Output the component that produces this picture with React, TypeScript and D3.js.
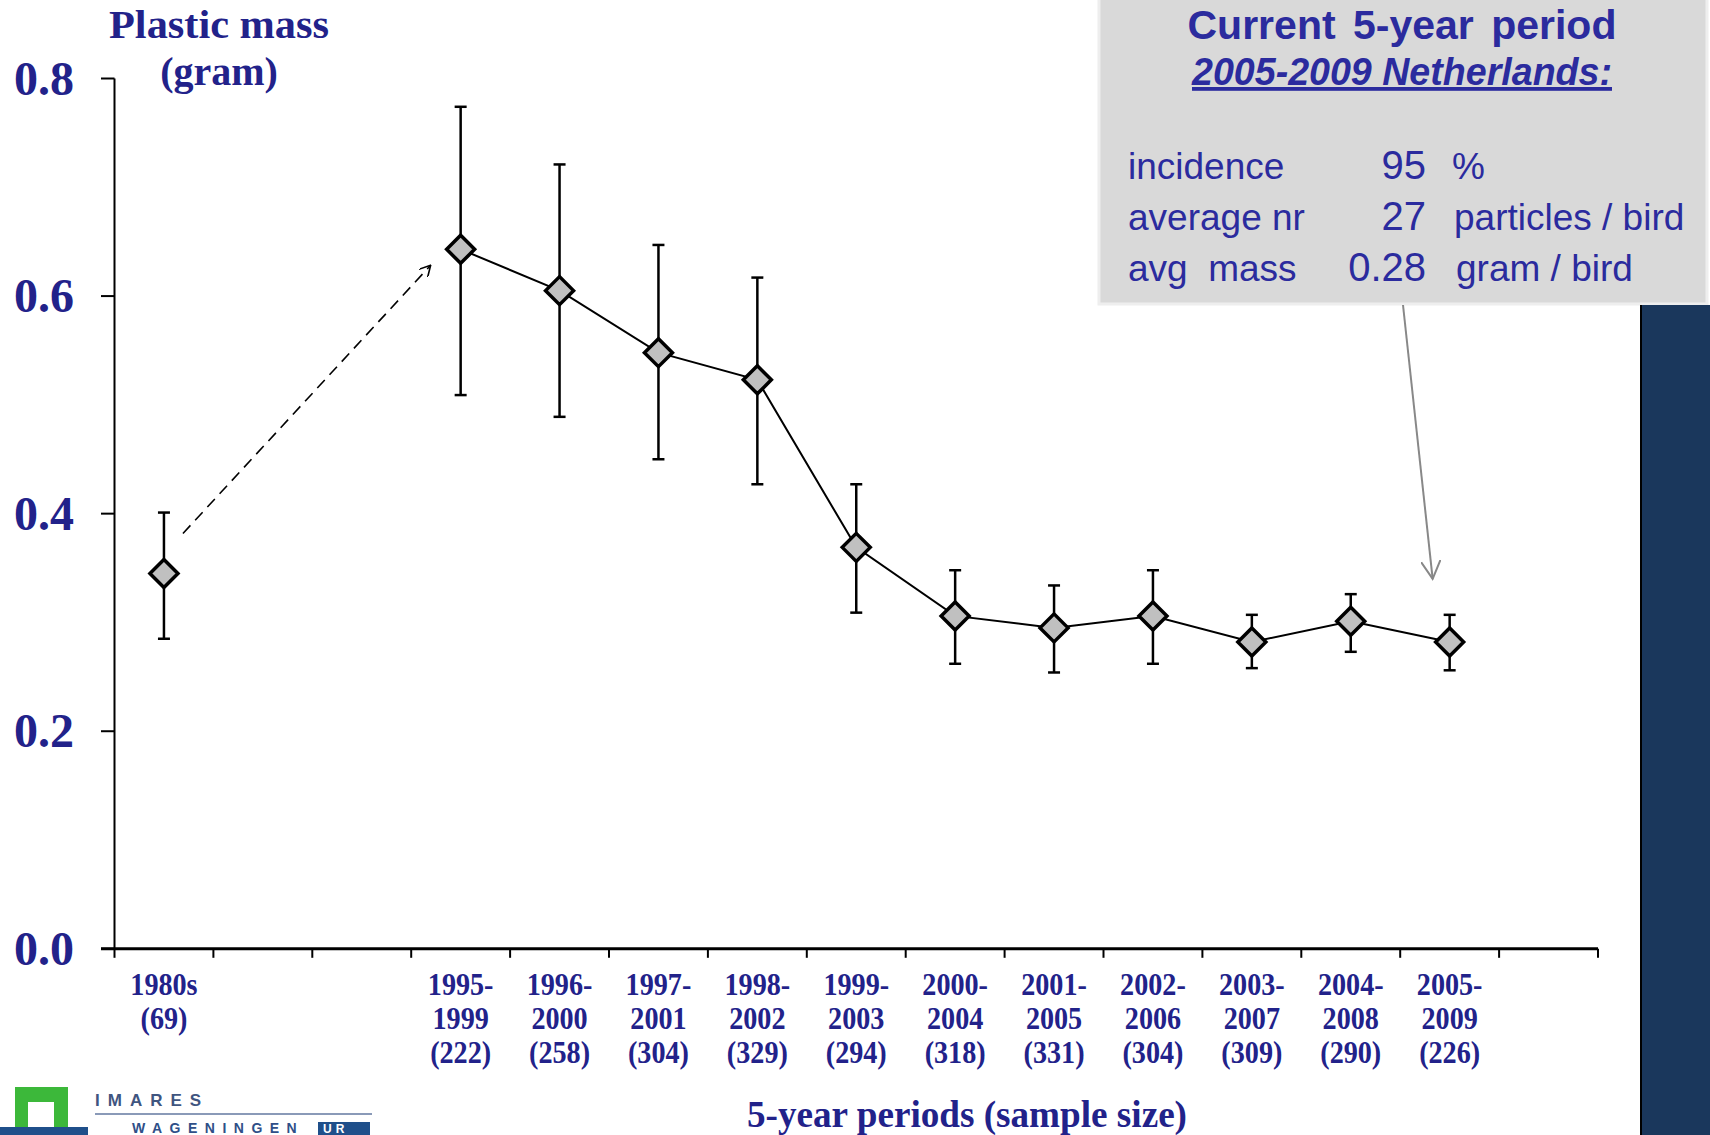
import React, { useEffect } from 'react';
import * as d3 from 'd3';

// slots along the x axis (three of them stay empty)
const xSlots = ['1980s', 'gap1', 'gap2', '1995-1999', '1996-2000', '1997-2001', '1998-2002', '1999-2003',
  '2000-2004', '2001-2005', '2002-2006', '2003-2007', '2004-2008', '2005-2009', 'gap3'];

const periods = ['1980s', '1995-1999', '1996-2000', '1997-2001', '1998-2002', '1999-2003',
  '2000-2004', '2001-2005', '2002-2006', '2003-2007', '2004-2008', '2005-2009'];
const sampleSizes = [69, 222, 258, 304, 329, 294, 318, 331, 304, 309, 290, 226];
const meanMass = [0.345, 0.643, 0.605, 0.548, 0.523, 0.369, 0.306, 0.295, 0.306, 0.282, 0.301, 0.282];
const upperMass = [0.401, 0.774, 0.721, 0.647, 0.617, 0.427, 0.348, 0.334, 0.348, 0.307, 0.326, 0.307];
const lowerMass = [0.285, 0.509, 0.489, 0.450, 0.427, 0.309, 0.262, 0.254, 0.262, 0.258, 0.273, 0.256];

const yTicks = [0, 0.2, 0.4, 0.6, 0.8];

const boxRows = [
  { label: 'incidence', value: '95', unit: '%' },
  { label: 'average nr', value: '27', unit: 'particles / bird' },
  { label: 'avg  mass', value: '0.28', unit: 'gram / bird' },
];

const W = 1710;
const H = 1135;
const navy = '#22228a';
const boxBlue = '#2b2b9e';

const App = () => {
  useEffect(() => {
    document.body.style.margin = '0';
  }, []);

  const x = d3.scaleBand().domain(xSlots).range([114.5, 1598]);
  const y = d3.scaleLinear().domain([0, 0.8]).range([948.8, 78.5]);
  const cx = (p: string) => (x(p) as number) + x.bandwidth() / 2;

  const pts = periods.map((p, i) => ({ p, n: sampleSizes[i], m: meanMass[i], hi: upperMass[i], lo: lowerMass[i] }));
  const line = d3.line<typeof pts[0]>().x(d => cx(d.p)).y(d => y(d.m));
  const diamond = 'M0,-14L14,0L0,14L-14,0Z';

  const tickXs = xSlots.map(s => x(s) as number).concat([x.range()[1]]);

  // dashed arrow from the 1980s point toward 1995-1999
  const p0 = pts[0], p1 = pts[1];
  const a0 = [cx(p0.p) + 19, y(p0.m) - 40];
  const a1 = [cx(p1.p) - 30, y(p1.m) + 16];

  const last = pts[pts.length - 1];

  return (
    <svg width={W} height={H} style={{ display: 'block', background: '#fff' }}>
      <defs>
        <marker id="openBlack" viewBox="0 0 12 12" refX="11" refY="6" markerWidth="12" markerHeight="12"
          markerUnits="userSpaceOnUse" orient="auto">
          <path d="M0,0L11,6L0,12" fill="none" stroke="#000" strokeWidth="1.6" />
        </marker>
        <marker id="openGrey" viewBox="0 0 12 12" refX="11" refY="6" markerWidth="20" markerHeight="20"
          markerUnits="userSpaceOnUse" orient="auto">
          <path d="M0,0L11,6L0,12" fill="none" stroke="#888" strokeWidth="1.2" />
        </marker>
      </defs>

      {/* info box */}
      <rect x={1099} y={-2} width={608} height={306} fill="#d9d9d9" stroke="#eeeeee" strokeWidth={3} />
      <text x={1402} y={39} textAnchor="middle" fontFamily="Liberation Sans, Arial" fontWeight="bold"
        fontSize={41} fill={boxBlue} wordSpacing={6}>Current 5-year period</text>
      <text x={1402} y={85} textAnchor="middle" fontFamily="Liberation Sans, Arial" fontWeight="bold"
        fontStyle="italic" fontSize={38} fill={boxBlue} textDecoration="underline" textLength={420}
        lengthAdjust="spacingAndGlyphs">2005-2009 Netherlands:</text>
      {boxRows.map((r, i) => (
        <g key={r.label} fontFamily="Liberation Sans, Arial" fill={boxBlue}>
          <text x={1128} y={179 + i * 51} fontSize={37} xmlSpace="preserve">{r.label}</text>
          <text x={1426} y={179 + i * 51} fontSize={40} textAnchor="end">{r.value}</text>
          <text x={1452 + i * 2} y={179 + i * 51} fontSize={37}>{r.unit}</text>
        </g>
      ))}

      {/* dark side panel */}
      <rect x={1641} y={305} width={69} height={830} fill="#1a375c" />
      <line x1={1641} y1={305} x2={1641} y2={H} stroke="#000" strokeWidth={2} />

      {/* axes */}
      <line x1={114.5} y1={y(0.8)} x2={114.5} y2={y(0)} stroke="#000" strokeWidth={2} />
      {yTicks.map(t => (
        <g key={t}>
          <line x1={101} x2={114.5} y1={y(t)} y2={y(t)} stroke="#000" strokeWidth={2} />
          <text x={74} y={y(t) + 16} textAnchor="end" fontFamily="Liberation Serif, Times New Roman"
            fontWeight="bold" fontSize={48} fill={navy}>{t.toFixed(1)}</text>
        </g>
      ))}
      <line x1={101} y1={y(0)} x2={x.range()[1]} y2={y(0)} stroke="#000" strokeWidth={3} />
      {tickXs.map((tx, i) => (
        <line key={i} x1={tx} x2={tx} y1={y(0)} y2={y(0) + 9} stroke="#000" strokeWidth={2} />
      ))}

      {/* x labels */}
      {pts.map(d => {
        const parts = d.p.includes('-') ? [d.p.split('-')[0] + '-', d.p.split('-')[1]] : [d.p];
        const lines = parts.concat([`(${d.n})`]);
        return (
          <g key={d.p} transform={`translate(${cx(d.p)},0)`}>
            {lines.map((l, j) => (
              <text key={j} transform={`translate(0,${995 + j * 34}) scale(0.88,1)`} textAnchor="middle"
                fontFamily="Liberation Serif, Times New Roman" fontWeight="bold" fontSize={32}
                fill={navy}>{l}</text>
            ))}
          </g>
        );
      })}

      {/* axis titles */}
      <text x={219} y={38} textAnchor="middle" fontFamily="Liberation Serif, Times New Roman" fontWeight="bold"
        fontSize={40} fill={navy} textLength={220} lengthAdjust="spacingAndGlyphs">Plastic mass</text>
      <text x={219} y={85} textAnchor="middle" fontFamily="Liberation Serif, Times New Roman" fontWeight="bold"
        fontSize={40} fill={navy}>(gram)</text>
      <text x={967} y={1127} textAnchor="middle" fontFamily="Liberation Serif, Times New Roman" fontWeight="bold"
        fontSize={38} fill={navy} textLength={440} lengthAdjust="spacingAndGlyphs">5-year periods (sample size)</text>

      {/* annotations */}
      <line x1={a0[0]} y1={a0[1]} x2={a1[0]} y2={a1[1]} stroke="#000" strokeWidth={1.6}
        strokeDasharray="11,7" markerEnd="url(#openBlack)" />
      <line x1={1403} y1={305} x2={cx(last.p) - 17} y2={y(last.hi) - 36} stroke="#888" strokeWidth={2}
        markerEnd="url(#openGrey)" />

      {/* error bars */}
      {pts.map(d => (
        <g key={d.p} stroke="#000" strokeWidth={2.5}>
          <line x1={cx(d.p)} x2={cx(d.p)} y1={y(d.hi)} y2={y(d.lo)} />
          <line x1={cx(d.p) - 6} x2={cx(d.p) + 6} y1={y(d.hi)} y2={y(d.hi)} />
          <line x1={cx(d.p) - 6} x2={cx(d.p) + 6} y1={y(d.lo)} y2={y(d.lo)} />
        </g>
      ))}

      {/* connecting line, 1995 onwards */}
      <path d={line(pts.slice(1)) as string} fill="none" stroke="#000" strokeWidth={2} />

      {pts.map(d => (
        <path key={d.p} d={diamond} transform={`translate(${cx(d.p)},${y(d.m)})`} fill="#c0c0c0"
          stroke="#000" strokeWidth={3.5} strokeLinejoin="miter" />
      ))}

      {/* logo */}
      <rect x={15} y={1087} width={53} height={48} fill="#3cb83a" />
      <rect x={28} y={1102} width={26} height={33} fill="#fff" />
      <rect x={0} y={1127} width={88} height={8} fill="#1f4f8a" />
      <text x={95} y={1106} fontFamily="Liberation Sans, Arial" fontWeight="bold" fontSize={17}
        letterSpacing={8} fill="#3f5580">IMARES</text>
      <line x1={95} x2={372} y1={1114} y2={1114} stroke="#8a9ab8" strokeWidth={2} />
      <text x={132} y={1133} fontFamily="Liberation Sans, Arial" fontWeight="bold" fontSize={14}
        letterSpacing={7.5} fill="#2f4f88">WAGENINGEN</text>
      <rect x={318} y={1122} width={52} height={13} fill="#1f4f8a" />
      <text x={323} y={1133} fontFamily="Liberation Sans, Arial" fontWeight="bold" fontSize={12}
        letterSpacing={4} fill="#fff">UR</text>
    </svg>
  );
};

export default App;
